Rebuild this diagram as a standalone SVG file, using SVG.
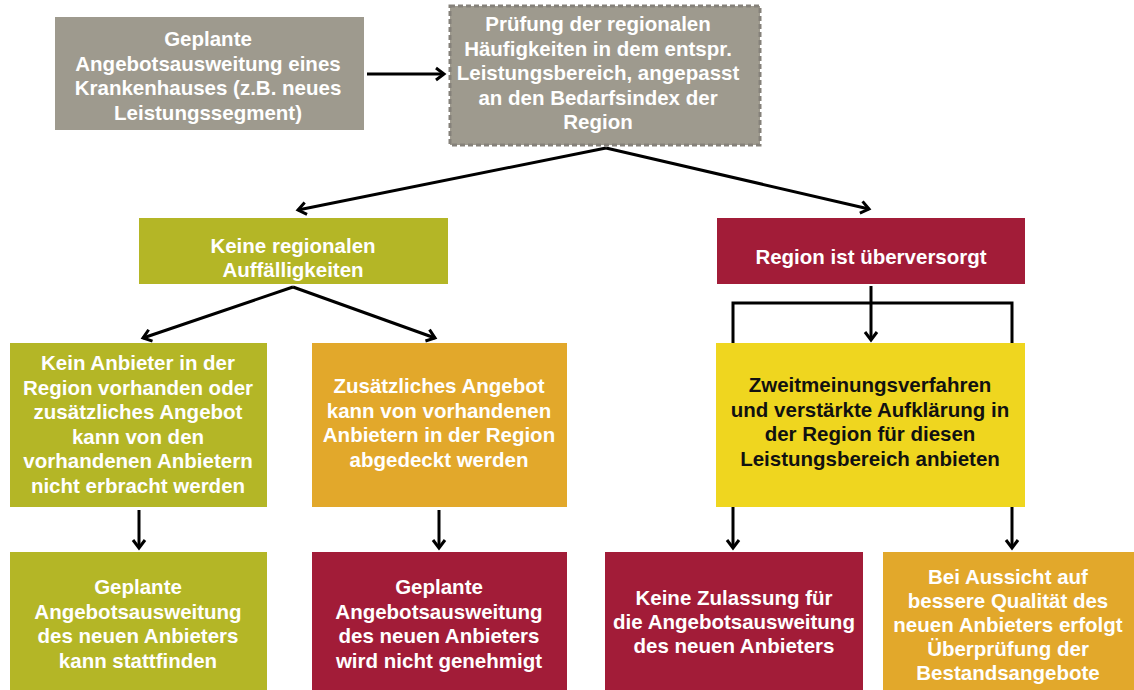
<svg xmlns="http://www.w3.org/2000/svg" width="1134" height="690" viewBox="0 0 1134 690">
<defs>
<style>
.t{font-family:"Liberation Sans",Arial,sans-serif;font-weight:bold;font-size:20.5px;fill:#ffffff;text-anchor:middle}
.k{fill:#111111}
.gray{fill:#9e9a8e}
.olive{fill:#b4b626}
.orange{fill:#e2a82b}
.red{fill:#a21c38}
.yellow{fill:#efd61f}
.c{fill:none;stroke:#000;stroke-width:3}
</style>
<marker id="ah" markerUnits="userSpaceOnUse" markerWidth="24" markerHeight="24" viewBox="-12 -12 24 24" refX="0" refY="0" orient="auto">
<path d="M-8,-6 L0,0 L-8,6" fill="none" stroke="#000" stroke-width="3" stroke-linejoin="miter"/>
</marker>
</defs>
<rect width="1134" height="690" fill="#ffffff"/>

<g id="connectors">
<path class="c" d="M367,74 L444,74" marker-end="url(#ah)"/>
<path class="c" d="M606,148 L298,210" marker-end="url(#ah)"/>
<path class="c" d="M606,148 L869,209" marker-end="url(#ah)"/>
<path class="c" d="M293,287 L143,338" marker-end="url(#ah)"/>
<path class="c" d="M293,287 L435,338" marker-end="url(#ah)"/>
<path class="c" d="M871,286 L871,340" marker-end="url(#ah)"/>
<path class="c" d="M733,345 V303 H1012 V345"/>
<path class="c" d="M139,510 L139,548" marker-end="url(#ah)"/>
<path class="c" d="M439,510 L439,548" marker-end="url(#ah)"/>
<path class="c" d="M733,507 L733,548" marker-end="url(#ah)"/>
<path class="c" d="M1012,507 L1012,548" marker-end="url(#ah)"/>
</g>

<g id="n1">
<rect class="gray" x="55" y="17" width="309" height="113"/>
<text class="t"><tspan x="208" y="46">Geplante</tspan><tspan x="208" y="70.5">Angebotsausweitung eines</tspan><tspan x="208" y="95">Krankenhauses (z.B. neues</tspan><tspan x="208" y="119.5">Leistungssegment)</tspan></text>
</g>

<g id="n2">
<rect class="gray" x="450" y="6" width="310" height="139" stroke="#85817a" stroke-width="3" stroke-dasharray="5 3"/>
<text class="t"><tspan x="598" y="31">Prüfung der regionalen</tspan><tspan x="598" y="55.5">Häufigkeiten in dem entspr.</tspan><tspan x="598" y="80">Leistungsbereich, angepasst</tspan><tspan x="598" y="104.5">an den Bedarfsindex der</tspan><tspan x="598" y="129">Region</tspan></text>
</g>

<g id="n3">
<rect class="olive" x="139" y="218" width="309" height="66"/>
<text class="t"><tspan x="293" y="253">Keine regionalen</tspan><tspan x="293" y="277">Auffälligkeiten</tspan></text>
</g>

<g id="n4">
<rect class="red" x="717" y="218" width="308" height="66"/>
<text class="t" x="871" y="264">Region ist überversorgt</text>
</g>

<g id="n5">
<rect class="olive" x="10" y="343" width="257" height="164"/>
<text class="t"><tspan x="138" y="370">Kein Anbieter in der</tspan><tspan x="138" y="394.5">Region vorhanden oder</tspan><tspan x="138" y="419">zusätzliches Angebot</tspan><tspan x="138" y="443.5">kann von den</tspan><tspan x="138" y="468">vorhandenen Anbietern</tspan><tspan x="138" y="492.5">nicht erbracht werden</tspan></text>
</g>

<g id="n6">
<rect class="orange" x="312" y="343" width="255" height="164"/>
<text class="t"><tspan x="439" y="393">Zusätzliches Angebot</tspan><tspan x="439" y="417.5">kann von vorhandenen</tspan><tspan x="439" y="442">Anbietern in der Region</tspan><tspan x="439" y="466.5">abgedeckt werden</tspan></text>
</g>

<g id="n7">
<rect class="yellow" x="716" y="343" width="309" height="164"/>
<text class="t k"><tspan x="870" y="392">Zweitmeinungsverfahren</tspan><tspan x="870" y="416.5">und verstärkte Aufklärung in</tspan><tspan x="870" y="441">der Region für diesen</tspan><tspan x="870" y="465.5">Leistungsbereich anbieten</tspan></text>
</g>

<g id="n8">
<rect class="olive" x="10" y="552" width="257" height="140"/>
<text class="t"><tspan x="138" y="594">Geplante</tspan><tspan x="138" y="618.5">Angebotsausweitung</tspan><tspan x="138" y="643">des neuen Anbieters</tspan><tspan x="138" y="667.5">kann stattfinden</tspan></text>
</g>

<g id="n9">
<rect class="red" x="312" y="552" width="255" height="140"/>
<text class="t"><tspan x="439" y="594">Geplante</tspan><tspan x="439" y="618.5">Angebotsausweitung</tspan><tspan x="439" y="643">des neuen Anbieters</tspan><tspan x="439" y="667.5">wird nicht genehmigt</tspan></text>
</g>

<g id="n10">
<rect class="red" x="605" y="552" width="258" height="140"/>
<text class="t"><tspan x="734" y="605">Keine Zulassung für</tspan><tspan x="734" y="629">die Angebotsausweitung</tspan><tspan x="734" y="653">des neuen Anbieters</tspan></text>
</g>

<g id="n11">
<rect class="orange" x="883" y="552" width="253" height="140"/>
<text class="t"><tspan x="1008" y="584">Bei Aussicht auf</tspan><tspan x="1008" y="608">bessere Qualität des</tspan><tspan x="1008" y="632">neuen Anbieters erfolgt</tspan><tspan x="1008" y="656">Überprüfung der</tspan><tspan x="1008" y="680">Bestandsangebote</tspan></text>
</g>
</svg>
